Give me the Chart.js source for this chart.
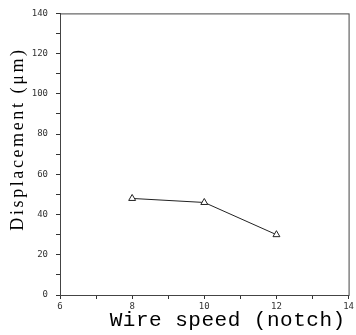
<!DOCTYPE html>
<html>
<head>
<meta charset="utf-8">
<script src="https://cdn.jsdelivr.net/npm/chart.js@4"></script>
<style>
  html, body { margin: 0; padding: 0; background: #fff; }
  #wrap { width: 356px; height: 335px; }
</style>
</head>
<body>
<div id="wrap"><canvas id="chart"></canvas></div>
<script>
// data
const wireSpeed = [8, 10, 12];
const displacement = [48, 46, 30];
const xTicks = [6, 8, 10, 12, 14];
const yTicks = [0, 20, 40, 60, 80, 100, 120, 140];
const xTitle = 'Wire speed (notch)';
const yTitle = 'Displacement (\u03bcm)';

const tickFont = { family: 'DejaVu Sans Mono', size: 9 };

// frame around the plot area + spaced-out axis titles
const frame = {
    id: 'frame',
    afterDraw(chart) {
        const a = chart.chartArea, c = chart.ctx;
        c.save();
        c.strokeStyle = '#444';
        c.lineWidth = 1;
        c.strokeRect(a.left + 0.5, a.top + 0.5, a.right - a.left, a.bottom - a.top);

        c.fillStyle = '#000';
        c.textBaseline = 'alphabetic';
        c.font = '21px "Liberation Mono"';
        c.letterSpacing = '0.5px';
        c.textAlign = 'right';
        c.fillText(xTitle, a.right - 3, 326);

        c.translate(23, 139);
        c.rotate(-Math.PI / 2);
        c.font = '18px "Liberation Serif"';
        c.letterSpacing = '2.6px';
        c.textAlign = 'center';
        c.fillText(yTitle, 0, 0);
        c.restore();
    }
};

new Chart(document.getElementById('chart'), {
    type: 'scatter',
    data: {
        datasets: [{
            data: wireSpeed.map((x, i) => ({ x: x, y: displacement[i] })),
            showLine: true,
            borderColor: '#222',
            borderWidth: 1,
            pointStyle: 'triangle',
            pointRadius: 4,
            pointBackgroundColor: '#fff',
            pointBorderColor: '#222',
            pointBorderWidth: 1
        }]
    },
    plugins: [frame],
    options: {
        responsive: true,
        maintainAspectRatio: false,
        animation: false,
        layout: { padding: { top: 13, right: 7, left: 0, bottom: 0 } },
        plugins: { legend: { display: false }, tooltip: { enabled: false } },
        scales: {
            x: {
                type: 'linear',
                min: 6, max: 14,
                afterBuildTicks: s => { s.ticks = [6,7,8,9,10,11,12,13,14].map(v => ({ value: v })); },
                afterFit: s => { s.height = 40; },
                grid: { drawOnChartArea: false, tickLength: 4, color: '#333' },
                border: { color: '#333' },
                ticks: {
                    font: tickFont, color: '#333', padding: 2, maxRotation: 0,
                    callback: v => xTicks.includes(v) ? String(v) : ''
                }
            },
            y: {
                min: 0, max: 140,
                afterBuildTicks: s => {
                    const t = [];
                    for (let v = 0; v <= 140; v += 10) t.push({ value: v });
                    s.ticks = t;
                },
                afterFit: s => { s.width = 60; },
                grid: { drawOnChartArea: false, tickLength: 4, color: '#333' },
                border: { color: '#333' },
                ticks: {
                    font: tickFont, color: '#333', padding: 8,
                    callback: v => yTicks.includes(v) ? String(v) : ''
                }
            }
        }
    }
});
</script>
</body>
</html>
